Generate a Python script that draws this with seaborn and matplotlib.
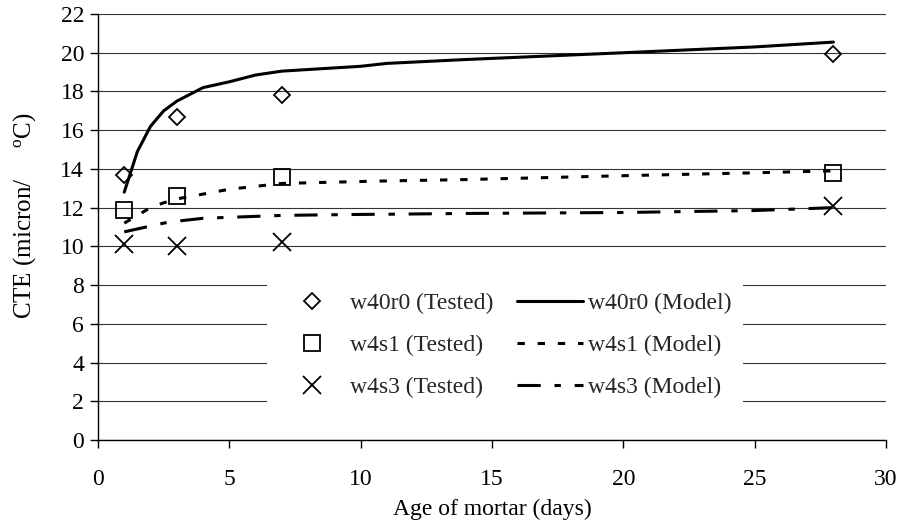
import matplotlib
matplotlib.use("Agg")
import matplotlib.pyplot as plt
import seaborn as sns
import pandas as pd

# Measured coefficient of thermal expansion (tested specimens)
test_days = [1, 3, 7, 28]
w40r0_tested = [13.7, 16.7, 17.8, 19.95]
w4s1_tested = [11.9, 12.6, 13.6, 13.8]
w4s3_tested = [10.1, 10.0, 10.2, 12.1]

# Model predictions
model_days = [1, 1.5, 2, 2.5, 3, 4, 5, 6, 7, 10, 11, 14, 20, 25, 28]
w40r0_model = [12.8, 14.9, 16.2, 17.0, 17.5, 18.2, 18.5, 18.85, 19.05, 19.3, 19.45, 19.65, 20.0, 20.3, 20.55]
w4s1_model = [11.2, 11.6, 12.0, 12.25, 12.45, 12.7, 12.95, 13.1, 13.25, 13.35, 13.38, 13.45, 13.65, 13.8, 13.9]
w4s3_model = [10.75, 10.9, 11.05, 11.2, 11.3, 11.45, 11.5, 11.55, 11.6, 11.65, 11.66, 11.7, 11.75, 11.85, 12.0]

x_ticks = [0, 5, 10, 15, 20, 25, 30]
y_ticks = [0, 2, 4, 6, 8, 10, 12, 14, 16, 18, 20, 22]

sns.set_theme(style="white")
plt.rcParams["font.family"] = ["Liberation Serif", "DejaVu Serif"]
plt.rcParams["mathtext.fontset"] = "custom"
plt.rcParams["mathtext.rm"] = "Liberation Serif"
plt.rcParams["mathtext.it"] = "Liberation Serif:italic"

FS = 17

fig = plt.figure(figsize=(8.99, 5.23), dpi=100)
ax = fig.add_axes([0.109, 0.1587, 0.8765, 0.8145])

tested = pd.DataFrame({"day": test_days, "w40r0": w40r0_tested,
                       "w4s1": w4s1_tested, "w4s3": w4s3_tested})
model = pd.DataFrame({"day": model_days, "w40r0": w40r0_model,
                      "w4s1": w4s1_model, "w4s3": w4s3_model})

lw = 2.2
line_styles = {
    "w40r0": "-",
    "w4s1": (0, (2.4, 4.2)),
    "w4s3": (0, (7.6, 4.5, 2.1, 4.5)),
}
for name in ["w40r0", "w4s1", "w4s3"]:
    sns.lineplot(data=model, x="day", y=name, ax=ax, color="black",
                 linewidth=lw, linestyle=line_styles[name],
                 label=f"{name} (Model)", zorder=3)

markers = {"w40r0": ("D", 8.0), "w4s1": ("s", 11.0), "w4s3": ("x", 12.5)}
for name in ["w40r0", "w4s1", "w4s3"]:
    m, ms = markers[name]
    sns.lineplot(data=tested, x="day", y=name, ax=ax, linestyle="",
                 marker=m, markersize=ms, markerfacecolor="none",
                 markeredgecolor="black", markeredgewidth=1.3,
                 color="black", label=f"{name} (Tested)", zorder=4)

ax.set_xlim(0, 30)
ax.set_ylim(0, 22)
ax.set_xticks(x_ticks)
ax.set_yticks(y_ticks)
ax.tick_params(axis="both", labelsize=FS, direction="out", length=6,
               width=1, color="black", labelcolor="black", left=True, bottom=True)
ax.tick_params(axis="x", pad=15)
ax.tick_params(axis="y", pad=4)

ax.yaxis.grid(True, color="#333333", linewidth=0.8)
ax.xaxis.grid(False)
ax.set_axisbelow(True)
for side in ["top", "right"]:
    ax.spines[side].set_visible(False)
for side in ["left", "bottom"]:
    ax.spines[side].set_color("black")
    ax.spines[side].set_linewidth(1.0)

ax.set_xlabel("Age of mortar (days)", fontsize=FS, color="black", labelpad=6)
ax.set_ylabel(r"CTE (micron/     $^{\mathrm{o}}$C)", fontsize=18, color="black")
ax.yaxis.set_label_coords(-0.076, 0.526)

handles, labels = ax.get_legend_handles_labels()
order = [3, 4, 5, 0, 1, 2]
leg = ax.legend([handles[i] for i in order], [labels[i] for i in order],
                ncol=2, loc="center", bbox_to_anchor=(0.517, 0.222),
                fontsize=FS, frameon=True, fancybox=False, framealpha=1,
                facecolor="white", edgecolor="none", handlelength=2.8,
                handletextpad=0.2, columnspacing=1.0, labelspacing=0.88,
                borderpad=0.5)
leg.set_zorder(5)

fig.savefig("out.png", dpi=100, facecolor="white")
